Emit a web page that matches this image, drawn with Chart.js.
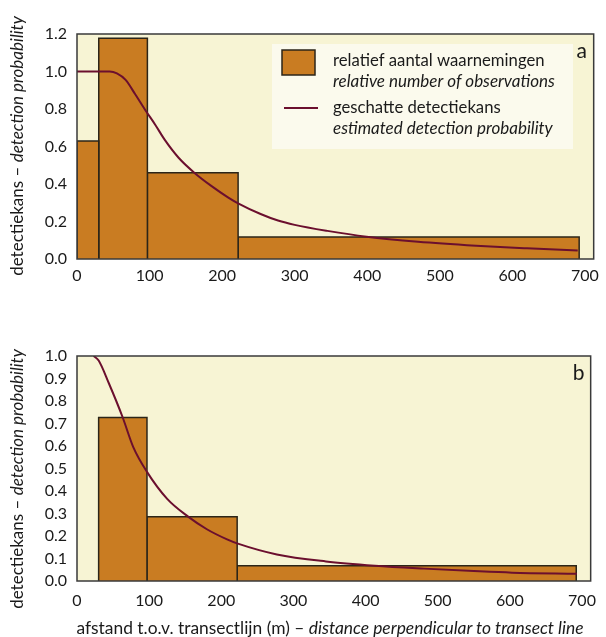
<!DOCTYPE html>
<html>
<head>
<meta charset="utf-8">
<script src="https://cdn.jsdelivr.net/npm/chart.js@4.4.0/dist/chart.umd.min.js"></script>
<style>
  body { margin: 0; background: #fff; font-family: Lato, sans-serif; color: #1a1a1a; }
  #wrap { position: relative; width: 606px; height: 637px; overflow: hidden; }
  canvas { position: absolute; left: 0; }
  .ytitle { position: absolute; width: 300px; height: 20px; line-height: 20px; text-align: center;
            font-size: 17px; white-space: nowrap; transform: rotate(-90deg); }
  .xtitle { position: absolute; left: 0; width: 660px; top: 617px; text-align: center; font-size: 17.4px; white-space: nowrap; }
</style>
</head>
<body>
<div id="wrap">
  <canvas id="chartA" width="606" height="300" style="top:0"></canvas>
  <canvas id="chartB" width="606" height="317" style="top:320px"></canvas>
  <div class="ytitle" style="left:-133px; top:136px">detectiekans – <i>detection probability</i></div>
  <div class="ytitle" style="left:-133px; top:469px">detectiekans – <i>detection probability</i></div>
  <div class="xtitle">afstand t.o.v. transectlijn (m) – <i>distance perpendicular to transect line</i></div>
</div>
<script>
// histogram bins (m)
const binEdges = [0, 30, 97, 222, 692];
// relative number of observations per bin
const obsA = [0.63, 1.177, 0.46, 0.117];
const obsB = [0, 0.727, 0.286, 0.068];

// estimated detection probability curves
const curveAx = [0, 30, 45, 55, 67, 80, 94, 108, 121, 140, 162, 185, 208, 222, 253, 277, 300, 345, 399, 470, 550, 620, 690];
const curveAy = [1.0, 1.0, 1.0, 0.99, 0.955, 0.88, 0.795, 0.715, 0.635, 0.54, 0.459, 0.39, 0.329, 0.297, 0.24, 0.205, 0.182, 0.15, 0.119, 0.092, 0.071, 0.057, 0.045];
const curveBx = [23, 30, 44, 63, 78, 97, 125, 154, 180, 208, 223, 277, 345, 413, 481, 550, 603, 693];
const curveBy = [1.0, 0.98, 0.88, 0.73, 0.595, 0.485, 0.365, 0.286, 0.23, 0.185, 0.166, 0.118, 0.087, 0.068, 0.055, 0.044, 0.037, 0.032];

const xTickValues = [0, 100, 200, 300, 400, 500, 600, 700];
const legendLabels = [
  ["relatief aantal waarnemingen", "relative number of observations"],
  ["geschatte detectiekans", "estimated detection probability"]
];

const BAR = "#c97c22";
const BAR_EDGE = "#2b2519";
const CURVE = "#6b0f2e";
const PLOT_BG = "#f7f4d4";
const LEGEND_BG = "#fbfaed";

Chart.defaults.font.family = "Lato, sans-serif";
Chart.defaults.font.size = 16;
Chart.defaults.color = "#1a1a1a";

function binDatasets(heights) {
  const sets = [];
  heights.forEach((h, i) => {
    if (h <= 0) return;
    const x0 = binEdges[i], x1 = binEdges[i + 1];
    sets.push({
      data: [{x: x0, y: 0}, {x: x0, y: h}, {x: x1, y: h}, {x: x1, y: 0}],
      fill: "origin",
      backgroundColor: BAR,
      borderColor: BAR_EDGE,
      borderWidth: 1.5,
      pointRadius: 0,
      tension: 0,
      order: 1
    });
  });
  return sets;
}

function curveDataset(xs, ys) {
  return {
    data: xs.map((x, i) => ({x: x, y: ys[i]})),
    borderColor: CURVE,
    borderWidth: 2,
    pointRadius: 0,
    fill: false,
    cubicInterpolationMode: "monotone",
    order: 0
  };
}

// plot background, frame, legend and panel letter
const decor = {
  id: "decor",
  beforeDraw(chart) {
    const a = chart.chartArea, ctx = chart.ctx;
    ctx.save();
    ctx.fillStyle = PLOT_BG;
    ctx.fillRect(a.left, a.top, a.right - a.left, a.bottom - a.top);
    ctx.restore();
  },
  afterDatasetsDraw(chart, args, opts) {
    const a = chart.chartArea, ctx = chart.ctx;
    ctx.save();
    ctx.strokeStyle = "#3a3a3a";
    ctx.lineWidth = 1.5;
    ctx.strokeRect(a.left, a.top, a.right - a.left, a.bottom - a.top);
    ctx.fillStyle = "#1a1a1a";
    ctx.font = "21px Lato, sans-serif";
    ctx.textAlign = "center";
    ctx.textBaseline = "middle";
    ctx.fillText(opts.letter, a.right - 12, a.top + 17);
    if (opts.legend) {
      const lx = a.left + 195, ly = a.top + 10;
      ctx.fillStyle = LEGEND_BG;
      ctx.fillRect(lx, ly, 301, 105);
      ctx.fillStyle = BAR;
      ctx.fillRect(lx + 10, ly + 6, 33, 25);
      ctx.strokeStyle = BAR_EDGE;
      ctx.lineWidth = 1.5;
      ctx.strokeRect(lx + 10, ly + 6, 33, 25);
      ctx.strokeStyle = CURVE;
      ctx.lineWidth = 2;
      ctx.beginPath();
      ctx.moveTo(lx + 12, ly + 64);
      ctx.lineTo(lx + 46, ly + 64);
      ctx.stroke();
      ctx.fillStyle = "#1a1a1a";
      ctx.textAlign = "left";
      const rows = [17, 38, 64, 85];
      legendLabels.forEach((pair, k) => {
        ctx.font = "16.7px Lato, sans-serif";
        ctx.fillText(pair[0], lx + 61, ly + rows[k * 2]);
        ctx.font = "italic 17px Lato, sans-serif";
        ctx.fillText(pair[1], lx + 61, ly + rows[k * 2 + 1]);
      });
    }
    ctx.restore();
  }
};

function makeChart(id, bins, cx, cy, yMax, yStep, pad, xHeight, tickPad, letter, legend) {
  return new Chart(document.getElementById(id), {
    type: "line",
    data: { datasets: [curveDataset(cx, cy)].concat(binDatasets(bins)) },
    options: {
      responsive: false,
      animation: false,
      layout: { padding: pad },
      plugins: {
        legend: { display: false },
        tooltip: { enabled: false },
        decor: { letter: letter, legend: legend }
      },
      scales: {
        x: {
          type: "linear",
          min: 0,
          max: 712,
          grid: { display: false, drawTicks: false },
          border: { display: false },
          afterBuildTicks(scale) {
            scale.ticks = xTickValues.map(v => ({value: v}));
          },
          ticks: { autoSkip: false, maxRotation: 0, padding: tickPad, callback: v => String(v) },
          afterFit(scale) { scale.height = xHeight; }
        },
        y: {
          min: 0,
          max: yMax,
          grid: { display: false, drawTicks: false },
          border: { display: false },
          ticks: { stepSize: yStep, padding: 10, callback: v => v.toFixed(1) },
          afterFit(scale) { scale.width = 77; }
        }
      }
    },
    plugins: [decor]
  });
}

makeChart("chartA", obsA, curveAx, curveAy, 1.2, 0.2, {top: 34, right: 6, left: 0, bottom: 0}, 41, 7, "a", true);
makeChart("chartB", obsB, curveBx, curveBy, 1.0, 0.1, {top: 36, right: 4, left: 0, bottom: 0}, 56, 10, "b", false);
</script>
</body>
</html>
